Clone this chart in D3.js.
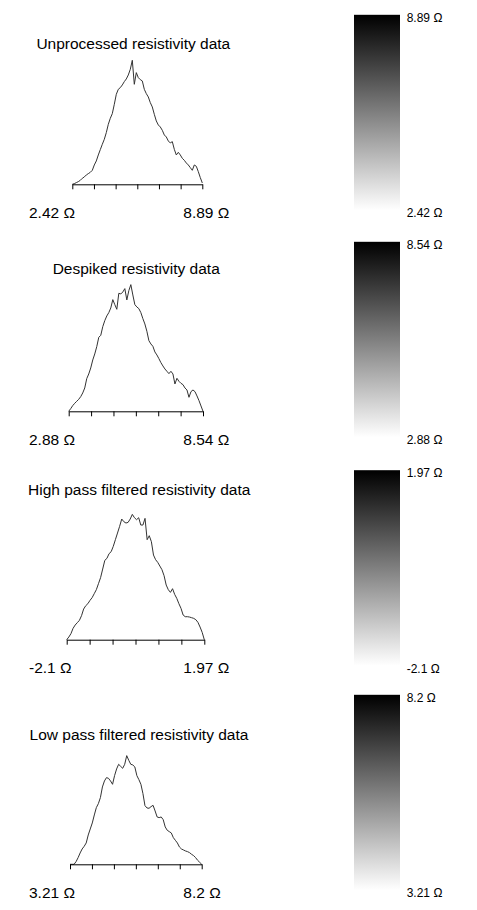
<!DOCTYPE html>
<html>
<head>
<meta charset="utf-8">
<script src="https://cdn.jsdelivr.net/npm/d3@7"></script>
<style>
  html, body { margin: 0; padding: 0; background: #fff; }
  svg { display: block; }
  text { font-family: "Liberation Sans", Arial, sans-serif; fill: #000; }
</style>
</head>
<body>
<svg id="chart" width="477" height="910"></svg>
<script>
// Histogram outlines of the resistivity survey at each processing stage,
// each paired with the grey ramp used to render that stage's map.

const panelTitles = [
  "Unprocessed resistivity data",
  "Despiked resistivity data",
  "High pass filtered resistivity data",
  "Low pass filtered resistivity data"
];

// Value range of each stage (Ω)
const rangeMin = [2.42, 2.88, -2.1, 3.21];
const rangeMax = [8.89, 8.54, 1.97, 8.2];

// Frequency counts per bin, bins evenly spread from min to max
const countsUnprocessed = [0, 2, 5, 8, 12, 18, 22, 28, 32, 36, 42, 58, 70, 88, 104, 120, 135, 155, 180, 198,
  212, 240, 270, 285, 290, 298, 308, 316, 328, 345, 372, 300, 335, 320, 314, 310, 285, 272, 262, 245,
  232, 210, 190, 178, 172, 162, 148, 142, 130, 124, 128, 105, 88, 96, 88, 78, 72, 64, 58, 50,
  42, 58, 54, 38, 20, 4];

const countsDespiked = [0, 8, 17, 24, 30, 36, 44, 55, 70, 98, 112, 130, 154, 172, 194, 222, 228, 254, 272, 286,
  296, 310, 335, 320, 306, 354, 352, 358, 368, 334, 362, 380, 349, 320, 313, 308, 296, 278, 262, 240,
  212, 202, 195, 178, 169, 158, 146, 136, 127, 120, 113, 120, 112, 82, 99, 90, 84, 80, 70, 64,
  42, 59, 64, 59, 46, 32, 16, 0];

const countsHighPass = [0, 8, 18, 34, 44, 51, 58, 72, 92, 102, 108, 118, 126, 138, 150, 168, 186, 212, 238, 244,
  258, 264, 280, 300, 320, 340, 362, 354, 350, 352, 362, 376, 366, 360, 366, 344, 344, 364, 300, 312,
  294, 254, 240, 232, 221, 210, 192, 164, 150, 142, 153, 136, 124, 108, 94, 74, 69, 69, 68, 66,
  64, 60, 52, 38, 22, 0];

const countsLowPass = [0, 0, 0, 8, 20, 34, 46, 54, 64, 88, 106, 124, 148, 170, 182, 200, 232, 250, 260, 258,
  250, 240, 266, 286, 300, 294, 288, 300, 326, 312, 300, 298, 292, 266, 254, 240, 212, 176, 169, 168,
  173, 177, 160, 142, 140, 142, 134, 112, 102, 98, 94, 80, 72, 64, 52, 46, 43, 40, 38, 35,
  30, 26, 20, 12, 6, 0];

const stageCounts = [countsUnprocessed, countsDespiked, countsHighPass, countsLowPass];

// Page layout for each stage's row
const rowLayout = [
  { axisY: 184.3, x0: 72.3, x1: 202.3, titleX: 133.3, titleY: 48.5 },
  { axisY: 411.3, x0: 68.7, x1: 203.0, titleX: 136.2, titleY: 274.0 },
  { axisY: 639.7, x0: 66.7, x1: 204.3, titleX: 139.2, titleY: 494.5 },
  { axisY: 864.3, x0: 70.0, x1: 201.7, titleX: 139.0, titleY: 740.0 }
];

const countMax = 375;     // shared count scale
const plotHeight = 125;   // pixels for countMax
const tickCount = 7;
const rampX = 354, rampW = 46, rampAbove = 169.5, rampBelow = 26;
const labelLeftX = 29, labelRightX = 183.3, labelDrop = 33.5;

const svg = d3.select("#chart");

// Shared vertical grey ramp: black at the top (max) to white at the bottom (min)
const defs = svg.append("defs");
const grad = defs.append("linearGradient")
  .attr("id", "greyRamp")
  .attr("x1", 0).attr("y1", 1).attr("x2", 0).attr("y2", 0);
grad.append("stop").attr("offset", 0).attr("stop-color", "#ffffff");
grad.append("stop").attr("offset", 1).attr("stop-color", "#000000");

const fmt = v => `${v} Ω`;

stageCounts.forEach((counts, k) => {
  const L = rowLayout[k];
  const lo = rangeMin[k], hi = rangeMax[k];
  const g = svg.append("g");

  const x = d3.scaleLinear().domain([lo, hi]).range([L.x0, L.x1]);
  const y = d3.scaleLinear().domain([0, countMax]).range([L.axisY, L.axisY - plotHeight]);
  const binValue = i => lo + (hi - lo) * i / (counts.length - 1);

  // Title
  g.append("text")
    .attr("x", L.titleX).attr("y", L.titleY)
    .attr("text-anchor", "middle")
    .style("font-size", "15.5px")
    .text(panelTitles[k]);

  // Frequency outline
  const line = d3.line()
    .x((d, i) => x(binValue(i)))
    .y(d => y(d));
  g.append("path")
    .datum(counts)
    .attr("d", line)
    .attr("fill", "none")
    .attr("stroke", "#333")
    .attr("stroke-width", 1)
    .attr("stroke-linejoin", "round");

  // Axis with unlabelled ticks
  const tickVals = d3.range(tickCount).map(i => lo + (hi - lo) * i / (tickCount - 1));
  const axis = d3.axisBottom(x)
    .tickValues(tickVals)
    .tickFormat("")
    .tickSizeInner(5)
    .tickSizeOuter(0);
  const ag = g.append("g")
    .attr("transform", `translate(0,${L.axisY})`)
    .call(axis);
  ag.select(".domain").attr("stroke", "#000").attr("stroke-width", 1);
  ag.selectAll(".tick line").attr("stroke", "#000").attr("stroke-width", 1);

  // Range labels
  g.append("text")
    .attr("x", labelLeftX).attr("y", L.axisY + labelDrop)
    .style("font-size", "15.5px")
    .text(fmt(lo));
  g.append("text")
    .attr("x", labelRightX).attr("y", L.axisY + labelDrop)
    .style("font-size", "15.5px")
    .text(fmt(hi));

  // Grey ramp with its limits
  const rampTop = L.axisY - rampAbove, rampBottom = L.axisY + rampBelow;
  const ry = d3.scaleLinear().domain([lo, hi]).range([rampBottom, rampTop]);
  g.append("rect")
    .attr("x", rampX).attr("width", rampW)
    .attr("y", ry(hi)).attr("height", ry(lo) - ry(hi))
    .attr("fill", "url(#greyRamp)");
  g.append("text")
    .attr("x", rampX + rampW + 6.7).attr("y", ry(hi) + 6.8)
    .style("font-size", "12px")
    .text(fmt(hi));
  g.append("text")
    .attr("x", rampX + rampW + 6.7).attr("y", L.axisY + 33)
    .style("font-size", "12px")
    .text(fmt(lo));
});
</script>
</body>
</html>
